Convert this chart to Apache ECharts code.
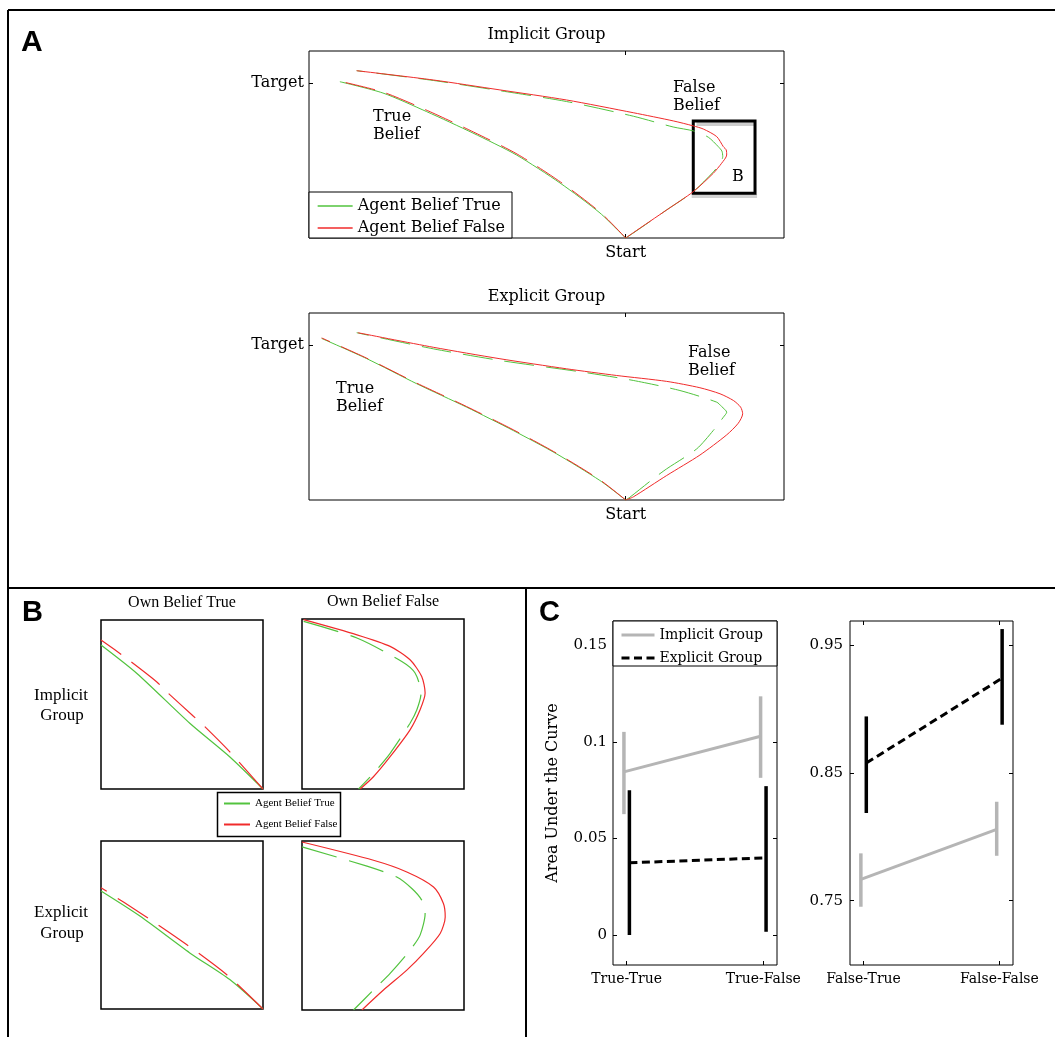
<!DOCTYPE html>
<html>
<head>
<meta charset="utf-8">
<script src="https://cdn.jsdelivr.net/npm/echarts@6/dist/echarts.min.js"></script>
<style>
html,body{margin:0;padding:0;background:#fff;}
#chart{width:1055px;height:1037px;}
</style>
</head>
<body>
<div id="chart"></div>
<script>
// ---------------- DATA ----------------
// Panel A: average trajectories (x: horizontal position, Start = 0; y: 0 = Start, 1 = Target)
const A_X_TICKS = [0];
const A_X_LABELS = ['Start'];
const A_Y_TICKS = [1];
const A_Y_LABELS = ['Target'];

const implicitTrueBeliefAgentTrue = [[0,0],[-0.162,0.161],[-0.415,0.355],[-0.689,0.535],[-0.965,0.677],[-1.257,0.815],[-1.533,0.935],[-1.805,1.008]];
const implicitTrueBeliefAgentFalse = [[0,0],[-0.160,0.165],[-0.410,0.360],[-0.685,0.541],[-0.960,0.683],[-1.250,0.821],[-1.530,0.940],[-1.805,1.011]];
const implicitFalseBeliefAgentFalse = [[0,0],[0.048,0.034],[0.259,0.181],[0.427,0.299],[0.553,0.417],[0.606,0.482],[0.638,0.535],[0.635,0.568],[0.617,0.589],[0.575,0.654],[0.490,0.703],[0.427,0.723],[0.301,0.755],[0.048,0.808],[-0.373,0.890],[-0.794,0.955],[-1.215,1.019],[-1.699,1.079]];
const implicitFalseBeliefAgentTrue = [[0,0],[0.048,0.032],[0.259,0.181],[0.427,0.299],[0.548,0.420],[0.597,0.482],[0.613,0.525],[0.608,0.560],[0.585,0.589],[0.522,0.650],[0.430,0.690],[0.300,0.716],[0.050,0.785],[-0.373,0.880],[-0.794,0.950],[-1.215,1.016],[-1.699,1.079]];

const explicitTrueBeliefAgentTrue = [[0,0],[-0.163,0.126],[-0.437,0.298],[-0.710,0.448],[-1.005,0.599],[-1.320,0.750],[-1.636,0.912],[-1.920,1.042]];
const explicitTrueBeliefAgentFalse = [[0,0],[-0.163,0.130],[-0.437,0.302],[-0.710,0.453],[-1.005,0.603],[-1.320,0.754],[-1.636,0.915],[-1.920,1.045]];
const explicitFalseBeliefAgentFalse = [[0,0],[0.048,0.020],[0.259,0.158],[0.469,0.290],[0.638,0.420],[0.711,0.495],[0.739,0.556],[0.726,0.599],[0.680,0.642],[0.596,0.685],[0.469,0.724],[0.259,0.765],[-0.057,0.803],[-0.373,0.846],[-0.794,0.911],[-1.215,0.985],[-1.692,1.079]];
const explicitFalseBeliefAgentTrue = [[0,0],[0.027,0.018],[0.174,0.137],[0.259,0.201],[0.449,0.330],[0.553,0.448],[0.617,0.534],[0.638,0.566],[0.606,0.603],[0.575,0.631],[0.343,0.706],[0.048,0.771],[-0.268,0.824],[-0.794,0.900],[-1.215,0.975],[-1.699,1.079]];

// zoom region shown in panel B
const zoomBoxX = [0.427, 0.817];
const zoomBoxY = [0.288, 0.755];

// Panel B: zoomed trajectories (local 0..1 units)
const bImplicitOwnTrueAgentTrue = [[1,0],[0.794,0.191],[0.548,0.389],[0.22,0.685],[0,0.852]];
const bImplicitOwnTrueAgentFalse = [[1,0],[0.794,0.221],[0.630,0.379],[0.569,0.432],[0.405,0.576],[0.343,0.635],[0.158,0.773],[0,0.882]];
const bImplicitOwnFalseAgentFalse = [[0.01,0.996],[0.339,0.907],[0.544,0.839],[0.667,0.760],[0.739,0.662],[0.760,0.564],[0.729,0.466],[0.667,0.348],[0.544,0.190],[0.441,0.072],[0.359,0]];
const bImplicitOwnFalseAgentTrue = [[0.01,0.986],[0.339,0.888],[0.616,0.750],[0.698,0.682],[0.735,0.564],[0.709,0.466],[0.667,0.387],[0.544,0.210],[0.441,0.092],[0.349,0]];
const bExplicitOwnTrueAgentTrue = [[1,0],[0.795,0.175],[0.548,0.334],[0.240,0.553],[0,0.702]];
const bExplicitOwnTrueAgentFalse = [[1,0],[0.775,0.205],[0.528,0.384],[0.261,0.560],[0,0.722]];
const bExplicitOwnFalseAgentFalse = [[0,0.994],[0.441,0.886],[0.647,0.817],[0.812,0.728],[0.873,0.630],[0.884,0.551],[0.853,0.453],[0.750,0.335],[0.647,0.236],[0.503,0.118],[0.370,0]];
const bExplicitOwnFalseAgentTrue = [[0,0.965],[0.401,0.851],[0.585,0.787],[0.678,0.719],[0.739,0.650],[0.760,0.571],[0.729,0.443],[0.667,0.354],[0.544,0.217],[0.441,0.118],[0.318,0]];

// Panel C: area under the curve (mean, lower, upper)
const trueCategories = ['True-True', 'True-False'];
const falseCategories = ['False-True', 'False-False'];
const cLeftYTicks = [0, 0.05, 0.1, 0.15];
const cRightYTicks = [0.75, 0.85, 0.95];

const implicitTrueMean = [0.0845, 0.1029];
const implicitTrueLow  = [0.0626, 0.0814];
const implicitTrueHigh = [0.1052, 0.1236];
const explicitTrueMean = [0.0374, 0.0400];
const explicitTrueLow  = [0.0000, 0.0017];
const explicitTrueHigh = [0.0750, 0.0771];

const implicitFalseMean = [0.7667, 0.8059];
const implicitFalseLow  = [0.7453, 0.7852];
const implicitFalseHigh = [0.7871, 0.8275];
const explicitFalseMean = [0.8578, 0.9243];
const explicitFalseLow  = [0.8187, 0.8878];
const explicitFalseHigh = [0.8943, 0.9627];

// ---------------- STYLE ----------------
const SERIF = "'DejaVu Serif', serif";
const NARROW = "'Liberation Serif', serif";
const SANS = "'Liberation Sans', Arial, sans-serif";
const GREEN = '#52c33e';
const RED = '#f02b2b';
const GRAY = '#b5b5b5';
const BLACK = '#000';
const DASH_A = [30, 12];
const DASH_B = [36, 13];
const DASH_C = [8, 4.5];
const NAME_T = 'Agent Belief True';
const NAME_F = 'Agent Belief False';
const NAME_I = 'Implicit Group';
const NAME_E = 'Explicit Group';

const chart = echarts.init(document.getElementById('chart'), null, {renderer: 'canvas'});

// grids
const grids = [
  {left: 309, top: 51, width: 475, height: 187},   // 0 A implicit
  {left: 309, top: 313, width: 475, height: 187},  // 1 A explicit
  {left: 101, top: 620, width: 162, height: 169},  // 2 B TL
  {left: 302, top: 619, width: 162, height: 170},  // 3 B TR
  {left: 101, top: 841, width: 162, height: 168},  // 4 B BL
  {left: 302, top: 841, width: 162, height: 169},  // 5 B BR
  {left: 613, top: 621, width: 164, height: 344},  // 6 C left
  {left: 850, top: 621, width: 163, height: 344}   // 7 C right
].map((g, i) => Object.assign({
  show: true, borderColor: '#000', borderWidth: (i >= 2 && i <= 5) ? 1.5 : 1,
  backgroundColor: 'rgba(0,0,0,0)', containLabel: false, outerBoundsMode: 'none'
}, g));

const xAxes = [];
const yAxes = [];

function tickAxis(gridIndex, position, min, max, ticks, labels, fontSize, margin, fontFamily) {
  return {
    type: 'value', gridIndex, position, min, max,
    axisLine: {show: false, onZero: false},
    splitLine: {show: false},
    axisTick: {show: true, inside: true, length: 4, customValues: ticks, lineStyle: {color: '#000', width: 1}},
    axisLabel: labels ? {
      show: true, customValues: ticks, margin, color: '#000', fontSize, fontFamily,
      formatter: (v) => { const i = ticks.findIndex(t => Math.abs(t - v) < 1e-9); return i >= 0 ? labels[i] : ''; }
    } : {show: false}
  };
}
function hiddenAxis(gridIndex, min, max) {
  return {type: 'value', gridIndex, min, max, show: false, axisLine: {onZero: false}, splitLine: {show: false}};
}

// A axes (indices 0..3)
[0, 1].forEach(g => {
  xAxes.push(tickAxis(g, 'bottom', -2, 1, A_X_TICKS, A_X_LABELS, 16, 7, SERIF));
  xAxes.push(tickAxis(g, 'top', -2, 1, A_X_TICKS, null));
  yAxes.push(tickAxis(g, 'left', 0, 1.206, A_Y_TICKS, A_Y_LABELS, 16, 5, SERIF));
  yAxes.push(tickAxis(g, 'right', 0, 1.206, A_Y_TICKS, null));
});
// B axes (indices 4..7)
[2, 3, 4, 5].forEach(g => {
  xAxes.push(hiddenAxis(g, 0, 1));
  yAxes.push(hiddenAxis(g, 0, 1));
});
// C axes (indices 8..11)
const fmt = v => String(+v.toFixed(2));
xAxes.push(tickAxis(6, 'bottom', 0.9, 2.1, [1, 2], trueCategories, 14, 7, SERIF));
xAxes.push(tickAxis(6, 'top', 0.9, 2.1, [1, 2], null));
const yl = tickAxis(6, 'left', -0.0155, 0.1626, cLeftYTicks, cLeftYTicks.map(fmt), 15, 6, SERIF);
yl.name = 'Area Under the Curve';
yl.nameLocation = 'middle';
yl.nameRotate = 90;
yl.nameGap = 52;
yl.nameTextStyle = {fontFamily: SERIF, fontSize: 16, color: '#000'};
yAxes.push(yl);
yAxes.push(tickAxis(6, 'right', -0.0155, 0.1626, cLeftYTicks, null));
xAxes.push(tickAxis(7, 'bottom', 0.9, 2.1, [1, 2], falseCategories, 14, 7, SERIF));
xAxes.push(tickAxis(7, 'top', 0.9, 2.1, [1, 2], null));
yAxes.push(tickAxis(7, 'left', 0.6997, 0.969, cRightYTicks, cRightYTicks.map(fmt), 15, 7, SERIF));
yAxes.push(tickAxis(7, 'right', 0.6997, 0.969, cRightYTicks, null));

// series helpers
function curve(name, data, axis, color, dash, width) {
  return {
    type: 'line', name, data, xAxisIndex: axis, yAxisIndex: axis,
    symbol: 'none', showSymbol: false, smooth: 0.25, animation: false,
    lineStyle: {color, width, type: dash || 'solid', cap: 'butt'},
    itemStyle: {color}, emphasis: {disabled: true}
  };
}

const series = [];
// Panel A
const aSets = [
  [0, implicitTrueBeliefAgentTrue, implicitFalseBeliefAgentTrue, implicitFalseBeliefAgentFalse, implicitTrueBeliefAgentFalse],
  [2, explicitTrueBeliefAgentTrue, explicitFalseBeliefAgentTrue, explicitFalseBeliefAgentFalse, explicitTrueBeliefAgentFalse]
];
aSets.forEach(([ax, gTB, gFB, rFB, rTB]) => {
  series.push(curve(NAME_T, gTB, ax, GREEN, null, 1));
  series.push(curve(NAME_T, gFB, ax, GREEN, DASH_A, 1));
  series.push(curve(NAME_F, rFB, ax, RED, null, 1));
  series.push(curve(NAME_F, rTB, ax, RED, DASH_A, 1));
});
// zoom box in implicit panel
series[0].markArea = {
  silent: true,
  data: [
    [{xAxis: zoomBoxX[0] + 0.02, yAxis: zoomBoxY[1] - 0.032, itemStyle: {color: '#cdcdcd', borderWidth: 0}},
     {xAxis: zoomBoxX[1], yAxis: zoomBoxY[1] - 0.006}],
    [{xAxis: zoomBoxX[0] - 0.01, yAxis: zoomBoxY[0] - 0.03, itemStyle: {color: '#d2d2d2', borderWidth: 0}},
     {xAxis: zoomBoxX[1] + 0.013, yAxis: zoomBoxY[0] - 0.005}],
    [{xAxis: zoomBoxX[0], yAxis: zoomBoxY[0], itemStyle: {color: 'rgba(0,0,0,0)', borderColor: '#000', borderWidth: 3}},
     {xAxis: zoomBoxX[1], yAxis: zoomBoxY[1]}]
  ]
};
// Panel B
const bSets = [
  [4, bImplicitOwnTrueAgentTrue, bImplicitOwnTrueAgentFalse, true],
  [5, bImplicitOwnFalseAgentTrue, bImplicitOwnFalseAgentFalse, false],
  [6, bExplicitOwnTrueAgentTrue, bExplicitOwnTrueAgentFalse, true],
  [7, bExplicitOwnFalseAgentTrue, bExplicitOwnFalseAgentFalse, false]
];
bSets.forEach(([ax, g, r, greenSolid]) => {
  series.push(curve(NAME_T, g, ax, GREEN, greenSolid ? null : DASH_B, 1.2));
  series.push(curve(NAME_F, r, ax, RED, greenSolid ? DASH_B : null, 1.2));
});

// Panel C
const OFF = 0.02;
function meanLine(name, means, axis, color, dash) {
  return {
    type: 'line', name, xAxisIndex: axis, yAxisIndex: axis, animation: false,
    data: means.map((m, i) => [i + 1 + (name === NAME_I ? -OFF : OFF), m]),
    symbol: 'none', showSymbol: false,
    lineStyle: {color, width: 3, type: dash || 'solid', cap: 'butt'},
    itemStyle: {color}, emphasis: {disabled: true}
  };
}
function errorBars(name, lows, highs, axis, color, offset) {
  return {
    type: 'custom', name, xAxisIndex: axis, yAxisIndex: axis, animation: false,
    data: lows.map((l, i) => [i + 1 + offset, l, highs[i]]),
    encode: {x: 0, y: [1, 2]},
    renderItem: (params, api) => {
      const p1 = api.coord([api.value(0), api.value(1)]);
      const p2 = api.coord([api.value(0), api.value(2)]);
      return {type: 'line', shape: {x1: p1[0], y1: p1[1], x2: p2[0], y2: p2[1]},
              style: {stroke: color, lineWidth: 3.5, lineCap: 'butt'}};
    }
  };
}
series.push(meanLine(NAME_I, implicitTrueMean, 8, GRAY));
series.push(meanLine(NAME_E, explicitTrueMean, 8, BLACK, DASH_C));
series.push(errorBars('Implicit Group error', implicitTrueLow, implicitTrueHigh, 8, GRAY, -OFF));
series.push(errorBars('Explicit Group error', explicitTrueLow, explicitTrueHigh, 8, BLACK, OFF));
series.push(meanLine(NAME_I, implicitFalseMean, 10, GRAY));
series.push(meanLine(NAME_E, explicitFalseMean, 10, BLACK, DASH_C));
series.push(errorBars('Implicit Group error', implicitFalseLow, implicitFalseHigh, 10, GRAY, -OFF));
series.push(errorBars('Explicit Group error', explicitFalseLow, explicitFalseHigh, 10, BLACK, OFF));

// legends
const legends = [
  {data: [NAME_T, NAME_F], orient: 'vertical', left: 317, top: 198, itemWidth: 35, itemHeight: 14, itemGap: 6,
   lineStyle: {width: 1.3},
   textStyle: {fontFamily: SERIF, fontSize: 16, color: '#000'}},
  {data: [NAME_T, NAME_F], orient: 'vertical', left: 223, top: 798, itemWidth: 26, itemHeight: 10, itemGap: 10,
   textStyle: {fontFamily: NARROW, fontSize: 11, color: '#000'}},
  {data: [NAME_I, NAME_E], orient: 'vertical', left: 620, top: 628, itemWidth: 33, itemHeight: 12, itemGap: 9,
   lineStyle: {width: 3},
   textStyle: {fontFamily: SERIF, fontSize: 14, color: '#000'}}
].map(l => Object.assign({padding: 0, z: 30, backgroundColor: 'rgba(0,0,0,0)', borderWidth: 0, selectedMode: false,
                           itemStyle: {opacity: 0}}, l));

// graphic annotations
function txt(text, x, y, size, family, align, weight) {
  return {type: 'text', z: 40, silent: true,
    style: {text, x, y, fontSize: size, fontFamily: family, fontWeight: weight || 'normal', fill: '#000',
            align: align || 'left', textAlign: align || 'left', verticalAlign: 'middle', textVerticalAlign: 'middle'}};
}
function ln(x1, y1, x2, y2, w) {
  return {type: 'line', z: 40, silent: true, shape: {x1, y1, x2, y2}, style: {stroke: '#000', lineWidth: w}};
}
function box(x, y, w, h, lw) {
  return {type: 'rect', z: 20, silent: true, shape: {x, y, width: w, height: h},
          style: {fill: '#fff', stroke: '#000', lineWidth: lw}};
}
const graphics = [
  ln(8, 10, 1055, 10, 2), ln(8, 10, 8, 1037, 2), ln(8, 588, 1055, 588, 2), ln(526, 588, 526, 1037, 2),
  txt('A', 21, 43, 30, SANS, 'left', 'bold'),
  txt('B', 22, 613, 29, SANS, 'left', 'bold'),
  txt('C', 539, 613, 29, SANS, 'left', 'bold'),
  txt('Implicit Group', 546.5, 35, 16, SERIF, 'center'),
  txt('Explicit Group', 546.5, 297, 16, SERIF, 'center'),
  txt('True', 373, 117, 16, SERIF), txt('Belief', 373, 135, 16, SERIF),
  txt('False', 673, 88, 16, SERIF), txt('Belief', 673, 106, 16, SERIF),
  txt('B', 738, 177, 16, SERIF, 'center'),
  txt('True', 336, 389, 16, SERIF), txt('Belief', 336, 407, 16, SERIF),
  txt('False', 688, 353, 16, SERIF), txt('Belief', 688, 371, 16, SERIF),
  txt('Own Belief True', 182, 603, 16, NARROW, 'center'),
  txt('Own Belief False', 383, 602, 16, NARROW, 'center'),
  txt('Implicit', 61, 696, 17, NARROW, 'center'), txt('Group', 62, 716, 17, NARROW, 'center'),
  txt('Explicit', 61, 913, 17, NARROW, 'center'), txt('Group', 62, 934, 17, NARROW, 'center'),
  box(309, 192, 203, 46, 1),
  box(217.5, 792.5, 123, 44, 1.5),
  box(613, 621, 164, 45, 1)
];

chart.setOption({
  backgroundColor: '#fff',
  animation: false,
  grid: grids,
  xAxis: xAxes,
  yAxis: yAxes,
  series,
  legend: legends,
  graphic: {elements: graphics}
});
</script>
</body>
</html>
